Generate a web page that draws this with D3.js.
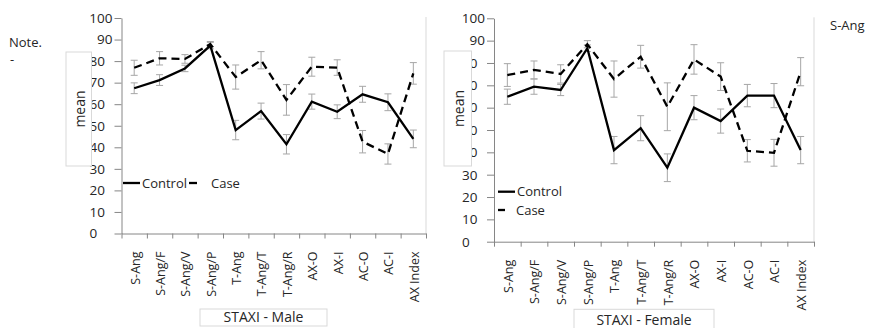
<!DOCTYPE html>
<html>
<head>
<meta charset="utf-8">
<script src="https://cdn.jsdelivr.net/npm/d3@7"></script>
<style>
  body { margin: 0; background: #fff; }
  svg { display: block; font-family: "Open Sans", sans-serif; }
</style>
</head>
<body>
<svg id="chart" width="876" height="328"></svg>
<script>
// STAXI subscales
const categories = ['S-Ang', 'S-Ang/F', 'S-Ang/V', 'S-Ang/P', 'T-Ang', 'T-Ang/T', 'T-Ang/R', 'AX-O', 'AX-I', 'AC-O', 'AC-I', 'AX Index']
const yTicks = [0, 10, 20, 30, 40, 50, 60, 70, 80, 90, 100]

// male
const maleControl    = [67.4, 71.2, 76.6, 87.2, 48.0, 56.8, 41.4, 61.2, 56.5, 64.6, 60.9, 43.9]
const maleControlErr = [2.5, 2.5, 1.5, 1.5, 4.5, 3.7, 4.5, 3.5, 3.2, 3.7, 3.9, 4.1]
const maleCase       = [76.9, 81.3, 81.0, 87.9, 72.6, 80.4, 62.0, 77.4, 77.0, 42.6, 36.9, 74.3]
const maleCaseErr    = [3.5, 3.1, 2.0, 1.2, 5.6, 4.0, 7.1, 4.4, 3.6, 5.2, 4.7, 5.0]

// female
const femaleControl    = [64.9, 69.4, 67.9, 86.6, 41.0, 50.8, 33.1, 60.0, 54.0, 65.4, 65.4, 41.0]
const femaleControlErr = [3.4, 3.4, 2.5, 1.5, 6.1, 5.6, 6.2, 5.4, 5.4, 5.0, 5.4, 6.1]
const femaleCase       = [74.6, 76.9, 75.1, 88.4, 72.8, 82.8, 60.4, 81.6, 73.9, 40.7, 39.8, 76.1]
const femaleCaseErr    = [5.1, 4.0, 4.1, 1.6, 8.1, 5.1, 10.7, 6.6, 6.2, 5.0, 6.0, 6.3]

const svg = d3.select('#chart')
const ink = '#262626'

function drawPanel(cfg) {
    const x = d3.scaleBand().domain(categories).range([cfg.x0, cfg.x1])
    const edge = d3.scaleLinear().domain([0, categories.length]).range([cfg.x0, cfg.x1])
    const y = d3.scaleLinear().domain([0, 100]).range([cfg.yBottom, cfg.yTop])
    const cx = d => x(d) + x.bandwidth() / 2
    const g = svg.append('g')

    // plot area right border
    g.append('line')
        .attr('x1', cfg.x1).attr('x2', cfg.x1)
        .attr('y1', cfg.yTop - 1).attr('y2', cfg.yBottom)
        .attr('stroke', '#d9d9d9')

    // y axis
    const ya = g.append('g')
        .attr('transform', `translate(${cfg.x0},0)`)
        .call(d3.axisLeft(y).tickValues(yTicks).tickSize(7).tickPadding(2).tickSizeOuter(0))
    ya.select('.domain').attr('stroke', '#868686')
    ya.selectAll('.tick line').attr('stroke', '#868686')
    ya.selectAll('.tick text')
        .attr('fill', ink)
        .style('font-size', '13.5px')
        .style('font-family', '"Open Sans", sans-serif')
        .each(function (d) {
            // the source figure has the lower labels flush left
            if (d < 90) d3.select(this).attr('x', cfg.labelX - cfg.x0).attr('text-anchor', 'start')
        })

    // x axis (ticks between categories)
    const xa = g.append('g')
        .attr('transform', `translate(0,${cfg.yBottom})`)
        .call(d3.axisBottom(edge).ticks(categories.length).tickSize(5).tickFormat('').tickSizeOuter(0))
    xa.select('.domain').attr('stroke', '#868686')
    xa.selectAll('.tick line').attr('stroke', '#868686')

    // category labels
    g.selectAll('.cat')
        .data(categories)
        .enter()
        .append('text')
        .attr('class', 'cat')
        .attr('transform', d => `translate(${cx(d) + 1},${cfg.yBottom + 18}) rotate(-90)`)
        .attr('dy', '0.35em')
        .attr('text-anchor', 'end')
        .attr('fill', ink)
        .style('font-size', '12.5px')
        .text(d => d)

    // error bars
    const series = [
        { vals: cfg.control, err: cfg.controlErr, dash: null },
        { vals: cfg.caseVals, err: cfg.caseErr, dash: '8,5' },
    ]
    series.forEach(s => {
        const eb = g.append('g').attr('stroke', '#a6a6a6').attr('stroke-width', 1)
        categories.forEach((c, i) => {
            const lo = y(s.vals[i] - s.err[i])
            const hi = y(s.vals[i] + s.err[i])
            eb.append('line').attr('x1', cx(c)).attr('x2', cx(c)).attr('y1', lo).attr('y2', hi)
            eb.append('line').attr('x1', cx(c) - 3.5).attr('x2', cx(c) + 3.5).attr('y1', lo).attr('y2', lo)
            eb.append('line').attr('x1', cx(c) - 3.5).attr('x2', cx(c) + 3.5).attr('y1', hi).attr('y2', hi)
        })
    })

    const line = d3.line().x((d, i) => cx(categories[i])).y(d => y(d))
    series.forEach(s => {
        g.append('path')
            .datum(s.vals)
            .attr('d', line)
            .attr('fill', 'none')
            .attr('stroke', '#000')
            .attr('stroke-width', 2.3)
            .attr('stroke-linejoin', 'miter')
            .attr('stroke-dasharray', s.dash)
    })

    // legend
    const lg = g.append('g').style('font-size', '13px').attr('fill', ink)
    cfg.legend.forEach(l => {
        lg.append('line')
            .attr('x1', l.lx0).attr('x2', l.lx1).attr('y1', l.ly).attr('y2', l.ly)
            .attr('stroke', '#000').attr('stroke-width', 2.3)
        lg.append('text').attr('x', l.tx).attr('y', l.ly).attr('dy', '0.35em').text(l.label)
    })

    // y title box
    const yb = cfg.yBox
    g.append('rect')
        .attr('x', yb[0]).attr('y', yb[1]).attr('width', yb[2]).attr('height', yb[3])
        .attr('fill', '#fff').attr('stroke', '#d9d9d9')
    g.append('text')
        .attr('transform', `translate(${yb[0] + yb[2] / 2 + 1},${yb[1] + yb[3] / 2}) rotate(-90)`)
        .attr('text-anchor', 'middle')
        .attr('dy', '0.35em')
        .attr('fill', ink)
        .style('font-size', '14px')
        .text('mean')

    // x title box
    const xb = cfg.xBox
    g.append('rect')
        .attr('x', xb[0]).attr('y', xb[1]).attr('width', xb[2]).attr('height', xb[3])
        .attr('fill', '#fff').attr('stroke', '#d9d9d9')
    g.append('text')
        .attr('x', xb[0] + xb[2] / 2).attr('y', cfg.xTitleY)
        .attr('text-anchor', 'middle')
        .attr('fill', ink)
        .style('font-size', '14px')
        .text(cfg.title)
}

drawPanel({
    x0: 121.5, x1: 426, yTop: 18, yBottom: 233.5, labelX: 89.5,
    control: maleControl, controlErr: maleControlErr,
    caseVals: maleCase, caseErr: maleCaseErr,
    legend: [
        { label: 'Control', lx0: 123, lx1: 140, ly: 183, tx: 142 },
        { label: 'Case', lx0: 189, lx1: 197, ly: 183, tx: 211 },
    ],
    yBox: [66, 52, 25.5, 114],
    xBox: [200, 309, 127, 17],
    xTitleY: 322,
    title: 'STAXI - Male',
})

drawPanel({
    x0: 494, x1: 814, yTop: 18.3, yBottom: 241.7, labelX: 462,
    control: femaleControl, controlErr: femaleControlErr,
    caseVals: femaleCase, caseErr: femaleCaseErr,
    legend: [
        { label: 'Control', lx0: 498, lx1: 515, ly: 191.7, tx: 517 },
        { label: 'Case', lx0: 498, lx1: 505, ly: 210, tx: 516 },
    ],
    yBox: [444, 51, 27.5, 115],
    xBox: [574, 309.3, 140, 25],
    xTitleY: 325,
    title: 'STAXI - Female',
})

// side notes
svg.append('text').attr('x', 9).attr('y', 47).attr('fill', ink).style('font-size', '13px').text('Note.')
svg.append('text').attr('x', 10).attr('y', 64).attr('fill', ink).style('font-size', '13px').text('-')
svg.append('text').attr('x', 830).attr('y', 30).attr('fill', ink).style('font-size', '13px').text('S-Ang')
</script>
</body>
</html>
